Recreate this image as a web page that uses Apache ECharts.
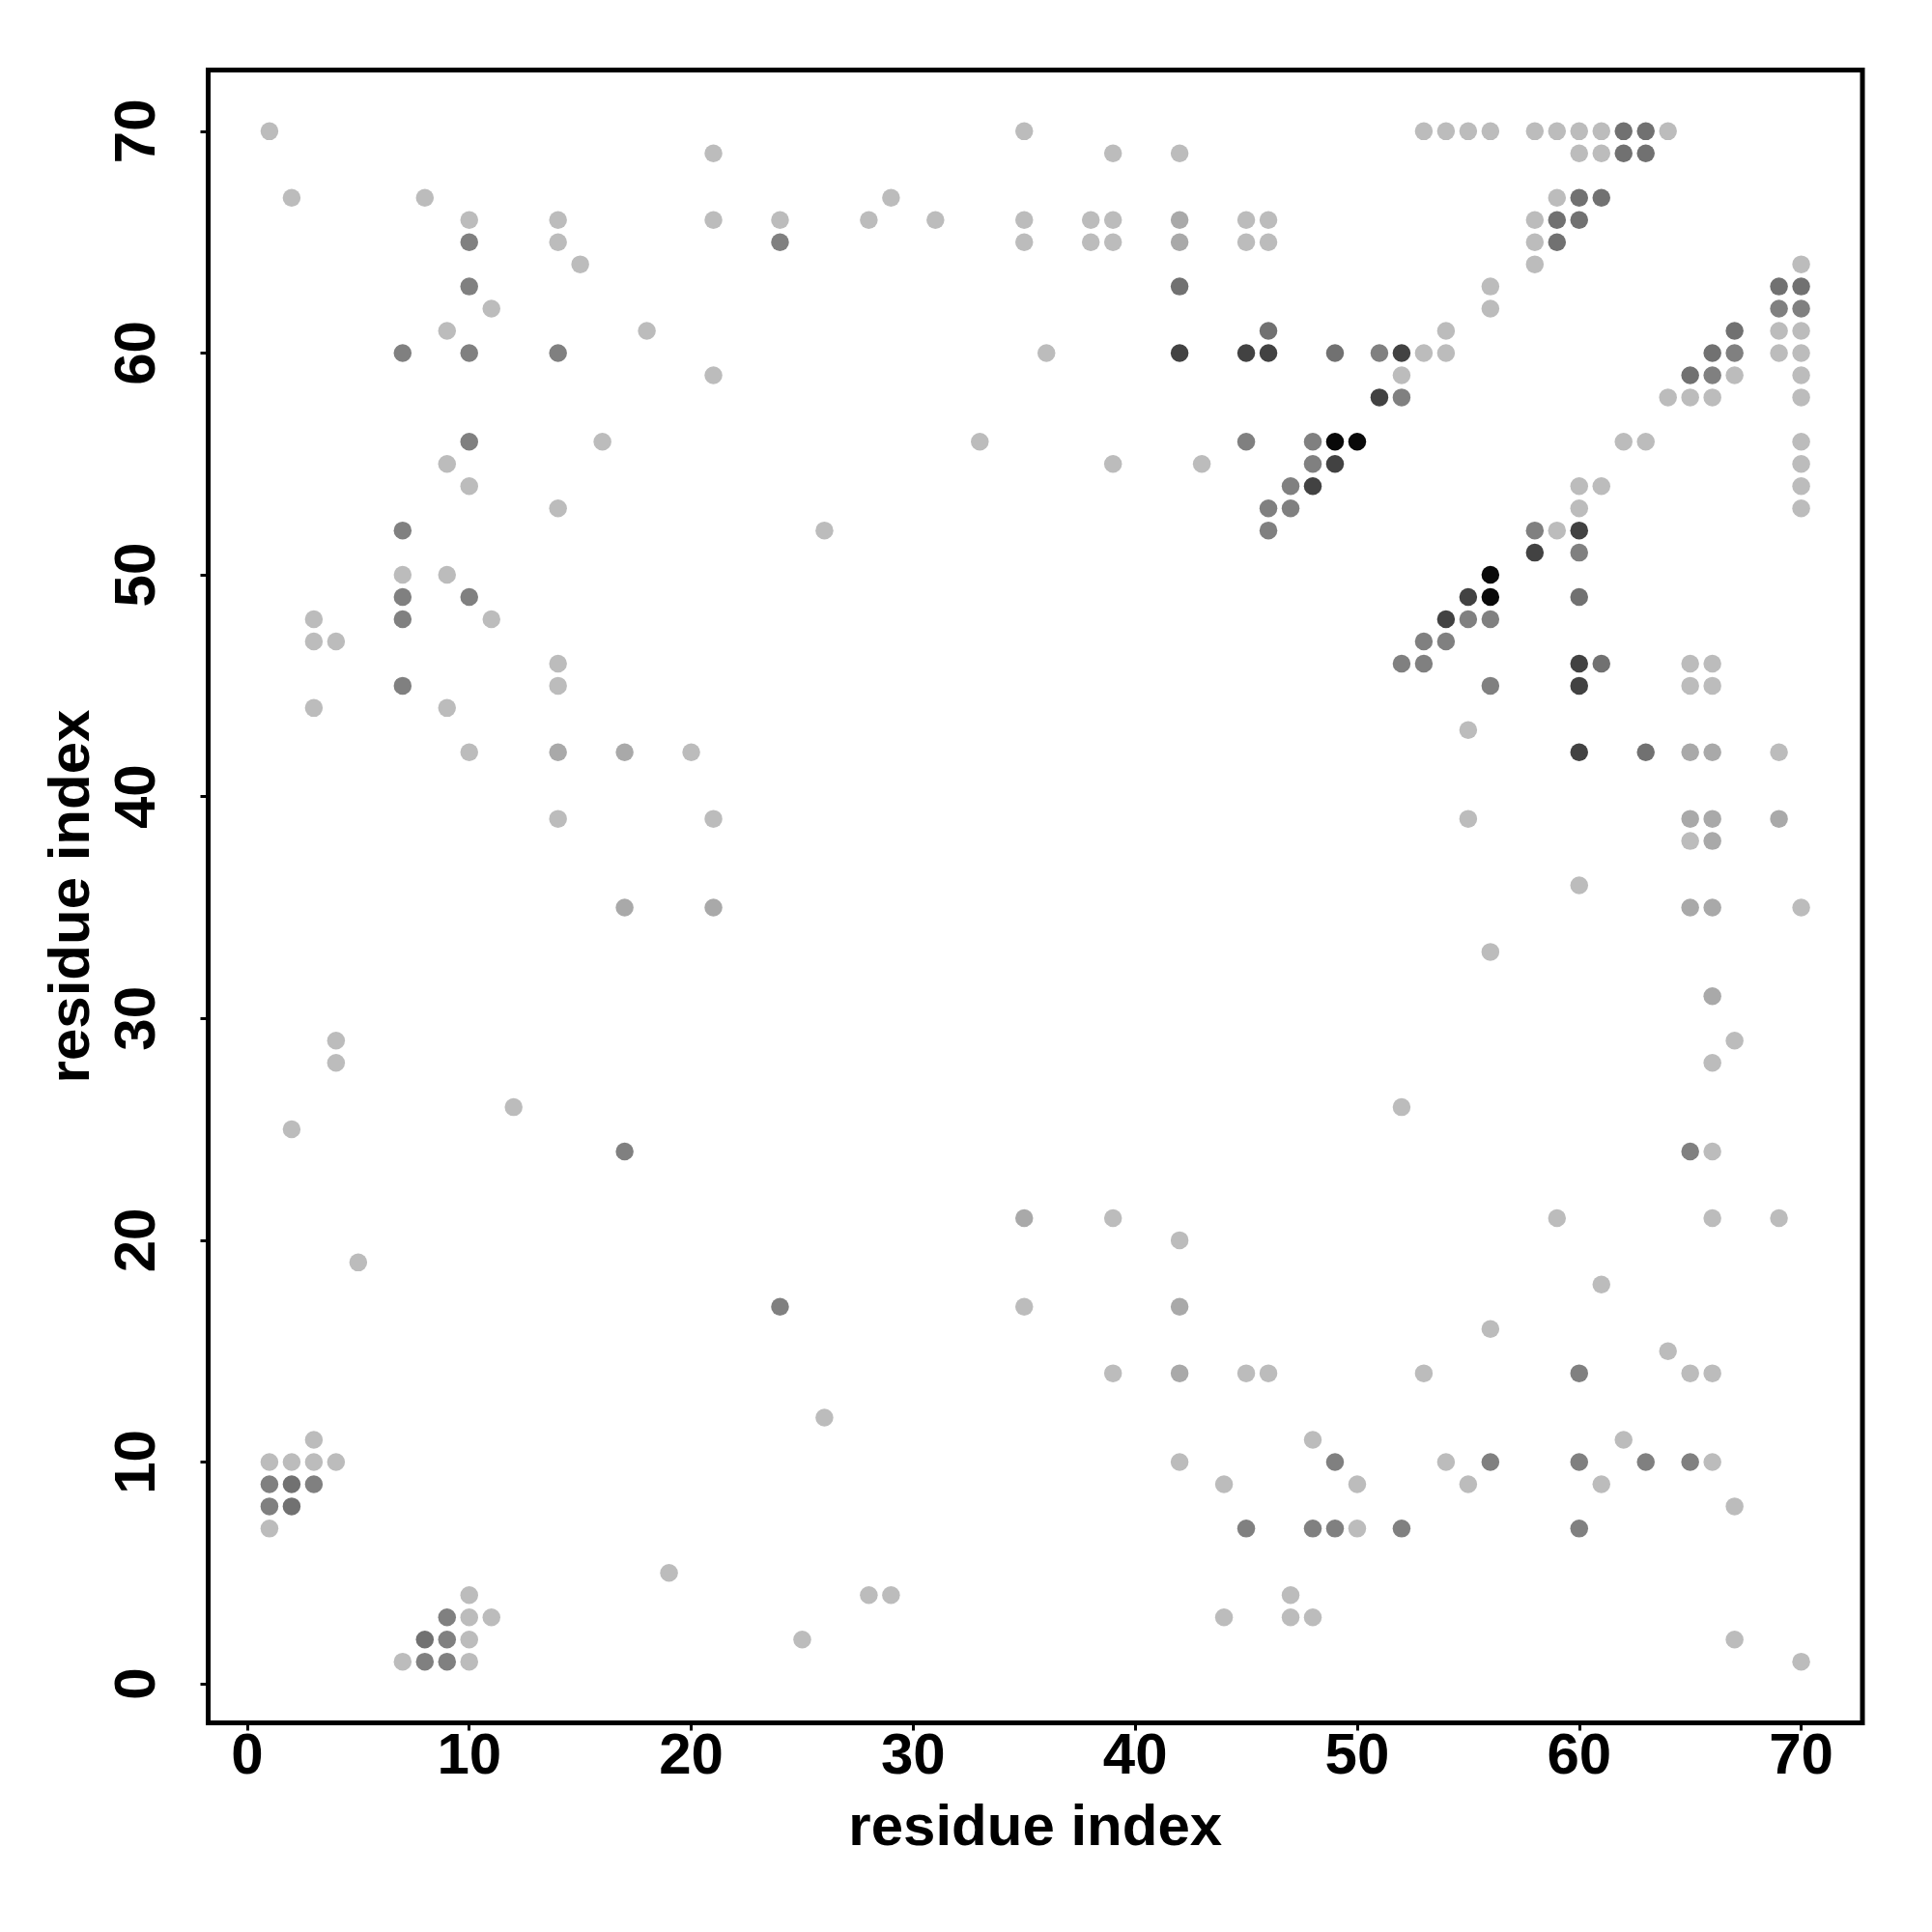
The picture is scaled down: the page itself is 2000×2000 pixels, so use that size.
<!DOCTYPE html>
<html>
<head>
<meta charset="utf-8">
<script src="https://cdn.jsdelivr.net/npm/echarts@6/dist/echarts.min.js"></script>
<style>
html,body{margin:0;padding:0;background:#fff;}
#chart{width:2000px;height:2000px;}
</style>
</head>
<body>
<div id="chart"></div>
<script>
// Tick labels (both axes)
const tickValues = [0, 10, 20, 30, 40, 50, 60, 70];

// Contact strength for each grey class (0 = palest, 1 = black)
const strengthLight = 0;
const strengthPale = 0.1;
const strengthMid = 0.32;
const strengthDark = 0.4;
const strengthDarker = 0.65;
const strengthBlack = 0.95;

// [residue i, residue j] pairs, grouped by contact strength
const lightPairs = [
  [1,70],[35,70],[53,70],[54,70],[55,70],[56,70],[58,70],[59,70],[60,70],[61,70],[64,70],
  [21,69],[39,69],[42,69],[60,69],[61,69],
  [2,67],[8,67],[29,67],[59,67],
  [10,66],[14,66],[21,66],[24,66],[28,66],[31,66],[35,66],[38,66],[39,66],[45,66],[46,66],[58,66],
  [14,65],[35,65],[38,65],[39,65],[45,65],[46,65],[58,65],
  [15,64],[58,64],[70,64],
  [56,63],
  [11,62],[56,62],
  [9,61],[18,61],[54,61],[69,61],[70,61],
  [36,60],[53,60],[54,60],[69,60],[70,60],
  [21,59],[52,59],[67,59],[70,59],
  [64,58],[65,58],[66,58],[70,58],
  [16,56],[33,56],[62,56],[63,56],[70,56],
  [9,55],[39,55],[43,55],[70,55],
  [10,54],[60,54],[61,54],[70,54],
  [14,53],[60,53],[70,53],
  [26,52],[59,52],
  [7,50],[9,50],
  [3,48],[11,48],
  [3,47],[4,47],
  [14,46],[65,46],[66,46],
  [14,45],[65,45],[66,45],
  [3,44],[9,44],
  [55,43],
  [10,42],[20,42],[69,42],
  [14,39],[21,39],[55,39],
  [65,38],
  [60,36],
  [70,35],
  [56,33],
  [4,29],[67,29],
  [4,28],[66,28],
  [12,26],[52,26],
  [2,25],
  [66,24],
  [39,21],[59,21],[66,21],[69,21],
  [42,20],
  [5,19],
  [61,18],
  [35,17],
  [56,16],
  [64,15],
  [39,14],[45,14],[46,14],[53,14],[65,14],[66,14],
  [26,12],
  [3,11],[48,11],[62,11],
  [1,10],[2,10],[3,10],[4,10],[42,10],[54,10],[66,10],
  [44,9],[50,9],[55,9],[61,9],
  [67,8],
  [1,7],[50,7],
  [19,5],
  [10,4],[28,4],[29,4],[47,4],
  [10,3],[11,3],[44,3],[47,3],[48,3],
  [10,2],[25,2],[67,2],
  [7,1],[10,1],[70,1]
];
const palePairs = [
  [42,66],[42,65],[14,42],[17,42],[65,42],[66,42],[65,39],[66,39],[69,39],[66,38],
  [17,35],[21,35],[65,35],[66,35],[66,31],[35,21],[42,17],[42,14]
];
const midPairs = [
  [10,65],[24,65],[10,63],[7,60],[10,60],[14,60],[51,60],[67,60],[66,59],[52,58],
  [10,56],[45,56],[48,56],[48,55],[47,54],[46,53],[47,53],[7,52],[46,52],[58,52],
  [60,51],[7,49],[10,49],[7,48],[55,48],[56,48],[53,47],[54,47],[52,46],[53,46],
  [7,45],[56,45],[69,62],[70,62],[17,24],[65,24],[24,17],[60,14],
  [49,10],[56,10],[60,10],[63,10],[65,10],[1,9],[3,9],[1,8],
  [45,7],[48,7],[49,7],[52,7],[60,7],[9,3],[9,2],[8,1],[9,1]
];
const darkPairs = [
  [62,70],[63,70],[62,69],[63,69],[60,67],[61,67],[59,66],[60,66],[59,65],
  [42,63],[69,63],[70,63],[46,61],[67,61],[49,60],[66,60],[65,59],
  [60,49],[61,46],[63,42],[2,9],[2,8],[8,2]
];
const darkerPairs = [
  [42,60],[45,60],[46,60],[52,60],[51,58],[49,55],[48,54],[60,52],[58,51],
  [55,49],[54,48],[60,46],[60,45],[60,42]
];
const blackPairs = [
  [49,56],[50,56],[56,50],[56,49]
];

const groups = [
  [lightPairs, strengthLight],
  [palePairs, strengthPale],
  [midPairs, strengthMid],
  [darkPairs, strengthDark],
  [darkerPairs, strengthDarker],
  [blackPairs, strengthBlack]
];
const points = [];
groups.forEach(function (g) {
  g[0].forEach(function (p) { points.push([p[0], p[1], g[1]]); });
});

const FONT = '"Liberation Sans", Arial, Helvetica, sans-serif';

const chart = echarts.init(document.getElementById('chart'), null, {renderer: 'canvas'});
chart.setOption({
  backgroundColor: '#ffffff',
  animation: false,
  grid: {
    left: 215.5, right: 72, top: 72.5, bottom: 216.5,
    show: true, borderColor: '#000000', borderWidth: 5, backgroundColor: 'transparent'
  },
  visualMap: {
    show: false, type: 'continuous', dimension: 2, min: 0, max: 1,
    inRange: {color: ['#bcbcbc', '#000000']}
  },
  xAxis: {
    type: 'value', min: -1.76, max: 72.76,
    name: 'residue index', nameLocation: 'middle', nameGap: 80,
    nameTextStyle: {fontFamily: FONT, fontWeight: 'bold', fontSize: 60, color: '#000'},
    splitLine: {show: false},
    axisLine: {show: false, onZero: false},
    axisTick: {show: true, customValues: tickValues, length: 8, lineStyle: {color: '#000', width: 3}},
    axisLabel: {customValues: tickValues, fontFamily: FONT, fontWeight: 'bold', fontSize: 60, color: '#000', margin: 6}
  },
  yAxis: {
    type: 'value', min: -1.76, max: 72.76,
    name: 'residue index', nameLocation: 'middle', nameGap: 102,
    nameTextStyle: {fontFamily: FONT, fontWeight: 'bold', fontSize: 60, color: '#000'},
    splitLine: {show: false},
    axisLine: {show: false, onZero: false},
    axisTick: {show: true, customValues: tickValues, length: 8, lineStyle: {color: '#000', width: 3}},
    axisLabel: {customValues: tickValues, rotate: 90, fontFamily: FONT, fontWeight: 'bold', fontSize: 60, color: '#000', margin: 42}
  },
  series: [{
    type: 'scatter',
    data: points,
    symbol: 'circle',
    symbolSize: 18.5,
    itemStyle: {opacity: 1}
  }]
});
</script>
</body>
</html>
